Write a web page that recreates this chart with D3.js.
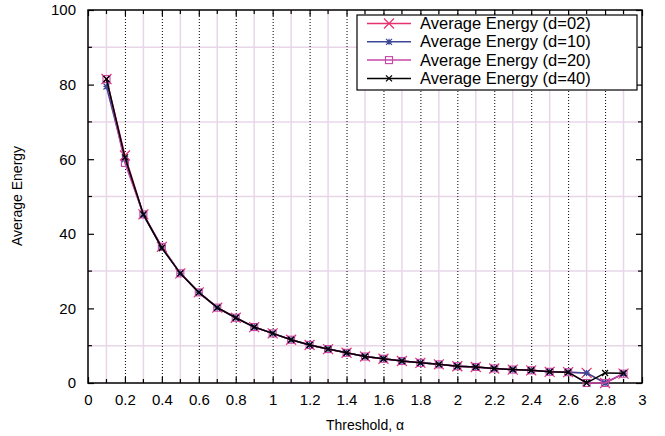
<!DOCTYPE html>
<html><head><meta charset="utf-8">
<script src="https://cdn.jsdelivr.net/npm/d3@7"></script>
<style>body{margin:0;background:#fff}svg{display:block}text{font-family:"Liberation Sans",Arial,sans-serif}</style>
</head><body>
<svg id="c" width="665" height="436"></svg>
<script>
const thresholds = [0.1,0.2,0.3,0.4,0.5,0.6,0.7,0.8,0.9,1.0,1.1,1.2,1.3,1.4,1.5,1.6,1.7,1.8,1.9,2.0,2.1,2.2,2.3,2.4,2.5,2.6,2.7,2.8,2.9];
const d02 = [81.5,61,45.2,36.5,29.4,24.3,20.2,17.5,15.0,13.3,11.6,10.2,9.1,8.1,7.1,6.5,5.9,5.4,5.0,4.5,4.3,3.9,3.6,3.4,3.0,2.9,2.7,0,2.5];
const d10 = [79.5,60,45.0,36.2,29.4,24.3,20.2,17.5,15.0,13.3,11.6,10.2,9.1,8.1,7.1,6.5,5.9,5.4,5.0,4.5,4.3,3.9,3.6,3.4,3.0,2.9,2.7,0,2.5];
const d20 = [81.5,59,45.2,36.5,29.4,24.3,20.2,17.5,15.0,13.3,11.6,10.2,9.1,8.1,7.1,6.5,5.9,5.4,5.0,4.5,4.3,3.9,3.6,3.4,3.0,2.9,0,0,2.5];
const d40 = [81.5,60.5,45.2,36.2,29.4,24.3,20.2,17.5,15.0,13.3,11.6,10.2,9.1,8.1,7.1,6.5,5.9,5.4,5.0,4.5,4.3,3.9,3.6,3.4,3.0,2.9,0,2.7,2.6];
const seriesNames = ["Average Energy (d=02)","Average Energy (d=10)","Average Energy (d=20)","Average Energy (d=40)"];
const xTicks = [0,0.2,0.4,0.6,0.8,1,1.2,1.4,1.6,1.8,2,2.2,2.4,2.6,2.8,3];
const xMinor = [0.1,0.3,0.5,0.7,0.9,1.1,1.3,1.5,1.7,1.9,2.1,2.3,2.5,2.7,2.9];
const yTicks = [0,20,40,60,80,100];
const yMinor = [10,30,50,70,90];

const svg = d3.select("#c");
const L=88,R=642,T=10,B=383;
const x = d3.scaleLinear().domain([0,3]).range([L,R]);
const y = d3.scaleLinear().domain([0,100]).range([B,T]);
const pink = "#e8d6e8";

svg.append("g").selectAll("line").data(xMinor).join("line")
  .attr("x1",d=>x(d)).attr("x2",d=>x(d)).attr("y1",T).attr("y2",B)
  .attr("stroke",pink).attr("stroke-width",1.5);
svg.append("g").selectAll("line").data(yMinor).join("line")
  .attr("y1",d=>y(d)).attr("y2",d=>y(d)).attr("x1",L).attr("x2",R)
  .attr("stroke",pink).attr("stroke-width",1.5);
svg.append("g").selectAll("line").data(xTicks.filter(d=>d>0&&d<3)).join("line")
  .attr("x1",d=>x(d)+0.5).attr("x2",d=>x(d)+0.5).attr("y1",T).attr("y2",B)
  .attr("stroke","#000").attr("stroke-width",1).attr("stroke-dasharray","1,2");

const axB = d3.axisBottom(x).tickValues(xTicks).tickSize(-6).tickPadding(11).tickFormat(d3.format("~g"));
const axT = d3.axisTop(x).tickValues(xTicks).tickSize(-6).tickFormat("");
const axL = d3.axisLeft(y).tickValues(yTicks).tickSize(-6).tickPadding(12);
const axR = d3.axisRight(y).tickValues(yTicks).tickSize(-6).tickFormat("");
function style(g){g.select(".domain").remove();g.selectAll("line").attr("stroke","#000").attr("stroke-width",1.2);g.selectAll("text").attr("font-size",15).attr("fill","#000");}
svg.append("g").attr("transform",`translate(0,${B})`).call(axB).call(style);
svg.append("g").attr("transform",`translate(0,${T})`).call(axT).call(style);
svg.append("g").attr("transform",`translate(${L},0)`).call(axL).call(style);
svg.append("g").attr("transform",`translate(${R},0)`).call(axR).call(style);
const mt = svg.append("g").attr("stroke","#000").attr("stroke-width",1.2);
xMinor.forEach(v=>{mt.append("line").attr("x1",x(v)).attr("x2",x(v)).attr("y1",B).attr("y2",B-4);mt.append("line").attr("x1",x(v)).attr("x2",x(v)).attr("y1",T).attr("y2",T+4);});
yMinor.forEach(v=>{mt.append("line").attr("y1",y(v)).attr("y2",y(v)).attr("x1",L).attr("x2",L+4);mt.append("line").attr("y1",y(v)).attr("y2",y(v)).attr("x1",R).attr("x2",R-4);});

svg.append("rect").attr("x",L).attr("y",T).attr("width",R-L).attr("height",B-T)
  .attr("fill","none").attr("stroke","#000").attr("stroke-width",1.5);

function marker(g,type,cx,cy,color){
  if(type==="X"){const s=5;g.append("path").attr("d",`M${cx-s},${cy-s}L${cx+s},${cy+s}M${cx-s},${cy+s}L${cx+s},${cy-s}`).attr("stroke",color).attr("stroke-width",1.2).attr("fill","none");}
  else if(type==="star"){const s=3;g.append("path").attr("d",`M${cx-s},${cy-s}L${cx+s},${cy+s}M${cx-s},${cy+s}L${cx+s},${cy-s}M${cx},${cy-s}L${cx},${cy+s}M${cx-s},${cy}L${cx+s},${cy}`).attr("stroke",color).attr("stroke-width",1.2).attr("fill","none");}
  else if(type==="sq"){const s=3.5;g.append("rect").attr("x",cx-s).attr("y",cy-s).attr("width",2*s).attr("height",2*s).attr("stroke",color).attr("stroke-width",1.1).attr("fill","none");}
  else {const s=3;g.append("path").attr("d",`M${cx-s},${cy-s}L${cx+s},${cy+s}M${cx-s},${cy+s}L${cx+s},${cy-s}`).attr("stroke",color).attr("stroke-width",1.3).attr("fill","none");}
}
const series = [
  {name:seriesNames[0],vals:d02,color:"#e8326e",m:"X"},
  {name:seriesNames[1],vals:d10,color:"#3c4896",m:"star"},
  {name:seriesNames[2],vals:d20,color:"#c846a8",m:"sq"},
  {name:seriesNames[3],vals:d40,color:"#000000",m:"x"}
];
const line = d3.line().x((d,i)=>x(thresholds[i])).y(d=>y(d));
series.forEach(s=>{
  const g=svg.append("g");
  g.append("path").attr("d",line(s.vals)).attr("fill","none").attr("stroke",s.color).attr("stroke-width",1.5);
  s.vals.forEach((v,i)=>marker(g,s.m,x(thresholds[i]),y(v),s.color));
});

const lg = svg.append("g");
lg.append("rect").attr("x",357).attr("y",15).attr("width",280).attr("height",75).attr("fill","#fff").attr("stroke","#000").attr("stroke-width",1.2);
series.forEach((s,i)=>{
  const yy=23.5+i*18.3;
  lg.append("line").attr("x1",367).attr("x2",411).attr("y1",yy).attr("y2",yy).attr("stroke",s.color).attr("stroke-width",1.5);
  marker(lg,s.m,389,yy,s.color);
  lg.append("text").attr("x",420).attr("y",yy+5.5).attr("font-size",16.5).text(s.name);
});

svg.append("text").attr("x",365).attr("y",430).attr("text-anchor","middle").attr("font-size",14).text("Threshold, α");
svg.append("text").attr("transform","translate(22,196) rotate(-90)").attr("text-anchor","middle").attr("font-size",14).text("Average Energy");
</script>
</body></html>
